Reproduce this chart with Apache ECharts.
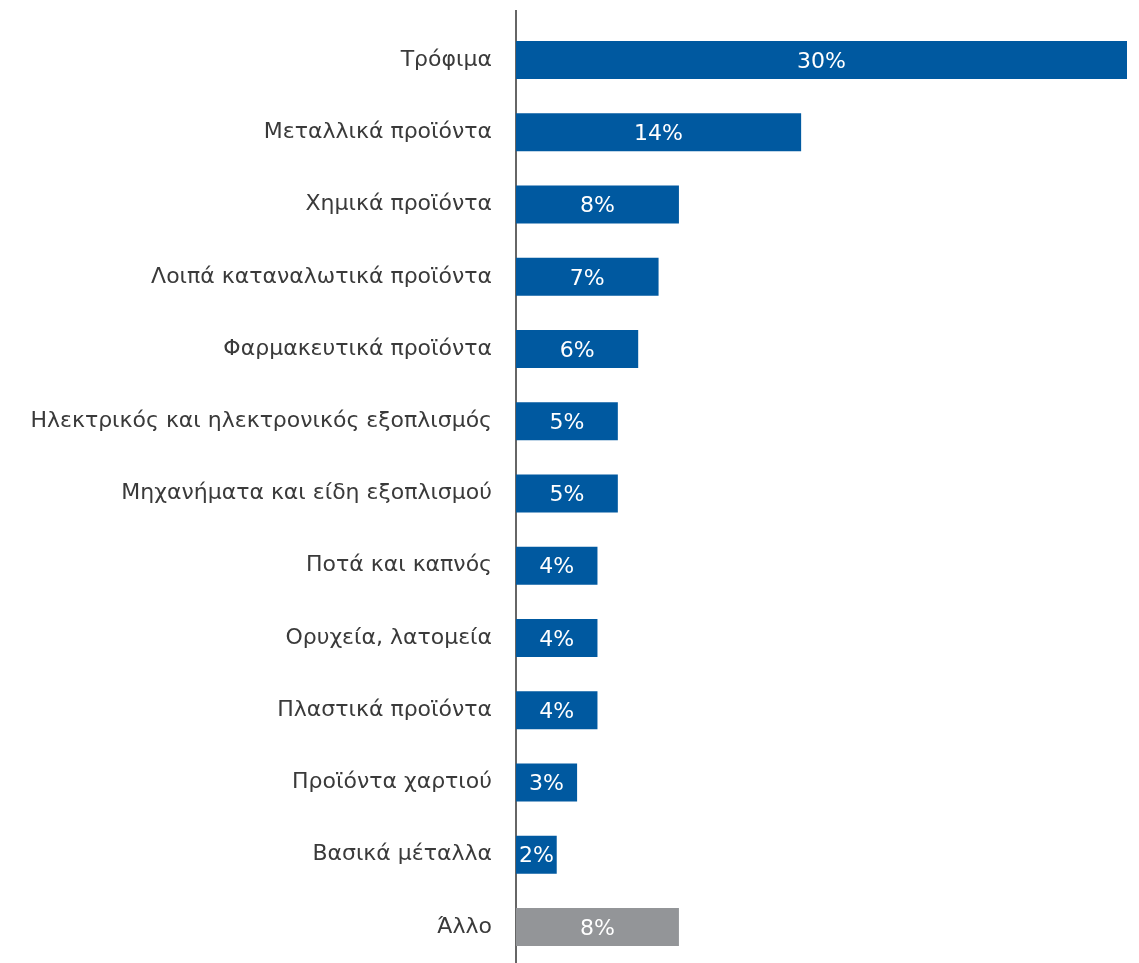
<!DOCTYPE html>
<html><head><meta charset="utf-8">
<script src="https://cdn.jsdelivr.net/npm/echarts@6/dist/echarts.min.js"></script>
<style>html,body{margin:0;padding:0;background:#fff}#c{width:1139px;height:963px}</style>
</head><body><div id="c"></div>
<script>
const categories = ["Τρόφιμα","Μεταλλικά προϊόντα","Χημικά προϊόντα","Λοιπά καταναλωτικά προϊόντα","Φαρμακευτικά προϊόντα","Ηλεκτρικός και ηλεκτρονικός εξοπλισμός","Μηχανήματα και είδη εξοπλισμού","Ποτά και καπνός","Ορυχεία, λατομεία","Πλαστικά προϊόντα","Προϊόντα χαρτιού","Βασικά μέταλλα","Άλλο"];
const values = [30,14,8,7,6,5,5,4,4,4,3,2,8];
const otherIndex = 12;
const chart = echarts.init(document.getElementById('c'));
chart.setOption({
  animation:false,
  grid:{left:516,right:12,top:24,height:940,containLabel:false},
  xAxis:{type:'value',min:0,max:30,show:false},
  yAxis:{type:'category',data:categories,inverse:true,
    axisLine:{show:false},axisTick:{show:false},
    axisLabel:{margin:24,fontSize:22,color:'#3a3a3a',fontFamily:'DejaVu Sans',padding:[4,0,0,0]}},
  series:[{type:'bar',barWidth:38,
    data:values.map((v,i)=>({value:v,itemStyle:{color:i===otherIndex?'#939598':'#0059a0'}})),
    label:{show:true,position:'inside',offset:[0,2],formatter:'{c}%',color:'#ffffff',fontSize:22,fontFamily:'DejaVu Sans'}}],
  graphic:[{type:'line',shape:{x1:516,y1:10,x2:516,y2:963},style:{stroke:'#333',lineWidth:1.5}}]
});
</script></body></html>
